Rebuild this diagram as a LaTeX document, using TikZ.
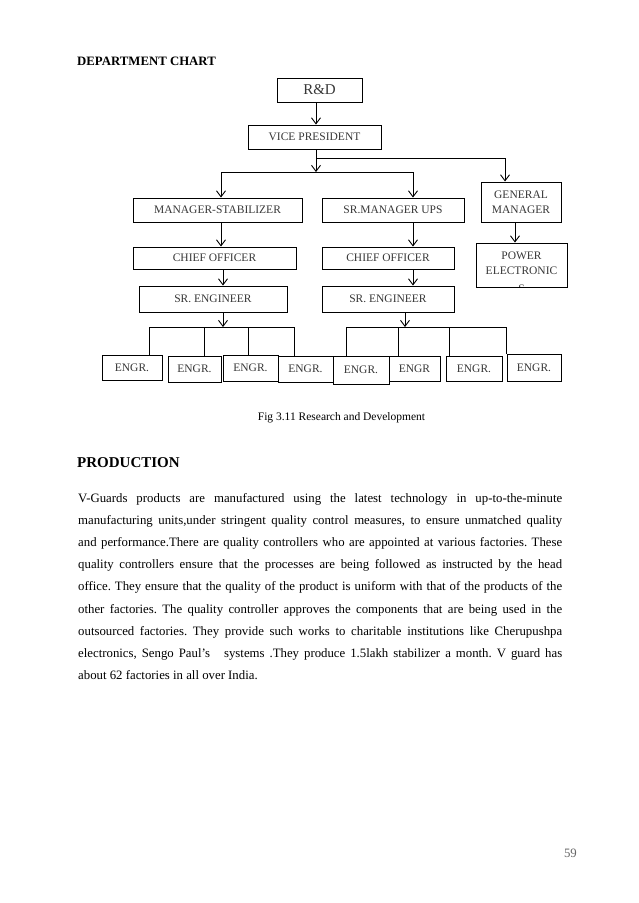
\documentclass[tikz,border=0pt]{standalone}
\usepackage{fontspec}
\setmainfont{Liberation Serif}
\usetikzlibrary{arrows.meta}
\frenchspacing
\begin{document}
\begin{tikzpicture}[x=1pt,y=-1pt,
  box/.style={draw, line width=1pt, inner sep=0pt, text=black!78, font=\fontsize{11.5}{15}\selectfont, align=center},
  arr/.style={-{Straight Barb[length=6pt,width=9pt,line width=0.9pt]}, line width=0.9pt},
  ln/.style={line width=0.9pt},
  lbl/.style={inner sep=0pt, text=black!78, font=\fontsize{11.5}{15}\selectfont},
  body/.style={anchor=base west, inner sep=0pt, font=\fontsize{12.8}{15}\selectfont\frenchspacing}]
\path[use as bounding box, fill=white] (0,0) rectangle (638,903);

% headings
\node[anchor=base west, inner sep=0pt, font=\fontsize{12.8}{15}\selectfont\bfseries] (title) at (77,65) {DEPARTMENT CHART};

% chart boxes
\node[box, minimum width=85pt, minimum height=24pt, font=\fontsize{15}{18}\selectfont] (rd) at (319.5,90) {R\&D};
\node[box, minimum width=133pt, minimum height=24pt] (vp) at (314.5,137) {VICE PRESIDENT};
\node[box, minimum width=169pt, minimum height=24pt] (ms) at (217.5,210) {MANAGER-STABILIZER};
\node[box, minimum width=142pt, minimum height=24pt] (su) at (393,210) {SR.MANAGER UPS};
\node[box, minimum width=80pt, minimum height=40pt] (gm) at (521,202) {GENERAL\\MANAGER};
\node[box, minimum width=163pt, minimum height=22pt] (co1) at (214.5,258) {CHIEF OFFICER};
\node[box, minimum width=132pt, minimum height=22pt] (co2) at (388,258) {CHIEF OFFICER};
\node[box, minimum width=148pt, minimum height=26pt] (se1) at (213,299) {SR. ENGINEER};
\node[box, minimum width=132pt, minimum height=26pt] (se2) at (388,299) {SR. ENGINEER};
\node[box, minimum width=91pt, minimum height=44pt] (pe) at (521.5,265) {};
\begin{scope}
  \clip (476.5,243.5) rectangle (566.5,286.5);
  \node[lbl, anchor=base] (pe1) at (521.5,259) {POWER};
  \node[lbl, anchor=base] (pe2) at (521.5,274) {ELECTRONIC};
  \node[lbl, anchor=base] (pe3) at (521.5,292.5) {S};
\end{scope}

% engineers
\node[box, minimum width=60pt, minimum height=25pt] (e1) at (132,367.5) {ENGR.};
\node[box, minimum width=53pt, minimum height=26pt] (e2) at (194.5,369) {ENGR.};
\node[box, minimum width=55pt, minimum height=26pt] (e3) at (250.5,368) {ENGR.};
\node[box, minimum width=55pt, minimum height=26pt] (e4) at (305.5,369) {ENGR.};
\node[box, minimum width=56pt, minimum height=28pt] (e5) at (361,370) {ENGR.};
\node[box, minimum width=51pt, minimum height=25pt] (e6) at (414.5,368.5) {ENGR};
\node[box, minimum width=56pt, minimum height=25pt] (e7) at (474,368.5) {ENGR.};
\node[box, minimum width=54pt, minimum height=27pt] (e8) at (534,367.5) {ENGR.};

% connectors
\coordinate (tx) at (316,0);
\coordinate (j1) at (316,158);
\coordinate (j2) at (316,172);
\coordinate (h1) at (505,158);
\coordinate (bl) at (221,172);
\coordinate (br) at (413,172);
\coordinate (cl) at (223,0);
\coordinate (gx) at (515,0);
\coordinate (k1) at (223,327);
\coordinate (k2) at (405,327);
\coordinate (b1) at (149,327);
\coordinate (b2) at (204,327);
\coordinate (b3) at (248,327);
\coordinate (b4) at (294,327);
\coordinate (b5) at (346,327);
\coordinate (b6) at (398,327);
\coordinate (b7) at (449,327);
\coordinate (b8) at (506,327);

\draw[arr] (rd.south -| tx) -- (vp.north -| tx);
\draw[arr] (vp.south -| tx) -- (j2);
\draw[ln] (j1) -- (h1);
\draw[arr] (h1) -- (h1 |- gm.north);
\draw[ln] (bl) -- (br);
\draw[arr] (bl) -- (bl |- ms.north);
\draw[arr] (br) -- (br |- su.north);
\draw[arr] (bl |- ms.south) -- (bl |- co1.north);
\draw[arr] (br |- su.south) -- (br |- co2.north);
\draw[arr] (cl |- co1.south) -- (cl |- se1.north);
\draw[arr] (br |- co2.south) -- (br |- se2.north);
\draw[arr] (gx |- gm.south) -- (gx |- pe.north);
\draw[arr] (cl |- se1.south) -- (k1);
\draw[arr] (k2 |- se2.south) -- (k2);
\draw[ln] (b1) -- (b4);
\draw[ln] (b5) -- (b8);
\draw[ln] (b1) -- (b1 |- e1.north);
\draw[ln] (b2) -- (b2 |- e2.north);
\draw[ln] (b3) -- (b3 |- e3.north);
\draw[ln] (b4) -- (b4 |- e4.north);
\draw[ln] (b5) -- (b5 |- e5.north);
\draw[ln] (b6) -- (b6 |- e6.north);
\draw[ln] (b7) -- (b7 |- e7.north);
\draw[ln] (b8) -- (b8 |- e8.north);

% caption
\node[anchor=base, inner sep=0pt, font=\fontsize{11.5}{14}\selectfont] (cap) at (341.5,420) {Fig 3.11 Research and Development};

% production section
\node[anchor=base west, inner sep=0pt, font=\fontsize{15}{18}\selectfont\bfseries] (prod) at (77,467) {PRODUCTION};
\node[body] (l1) at (78,502) {\makebox[484pt][s]{V-Guards products are manufactured using the latest technology in up-to-the-minute}};
\node[body] (l2) at (78,524.2) {\makebox[484pt][s]{manufacturing units,under stringent quality control measures, to ensure unmatched quality}};
\node[body] (l3) at (78,546.4) {\makebox[484pt][s]{and performance.There are quality controllers who are appointed at various factories. These}};
\node[body] (l4) at (78,568.6) {\makebox[484pt][s]{quality controllers ensure that the processes are being followed as instructed by the head}};
\node[body] (l5) at (78,590.8) {\makebox[484pt][s]{office. They ensure that the quality of the product is uniform with that of the products of the}};
\node[body] (l6) at (78,613) {\makebox[484pt][s]{other factories. The quality controller approves the components that are being used in the}};
\node[body] (l7) at (78,635.2) {\makebox[484pt][s]{outsourced factories. They provide such works to charitable institutions like Cherupushpa}};
\node[body] (l8) at (78,657.4) {\makebox[484pt][s]{electronics, Sengo Paul’s\hspace{9pt} systems .They produce 1.5lakh stabilizer a month. V guard has}};
\node[body] (l9) at (78,679.6) {about 62 factories in all over India.};

% page number
\node[anchor=base east, inner sep=0pt, text=black!60, font=\fontsize{12.8}{15}\selectfont] (pg) at (577,857) {59};
\end{tikzpicture}
\end{document}
